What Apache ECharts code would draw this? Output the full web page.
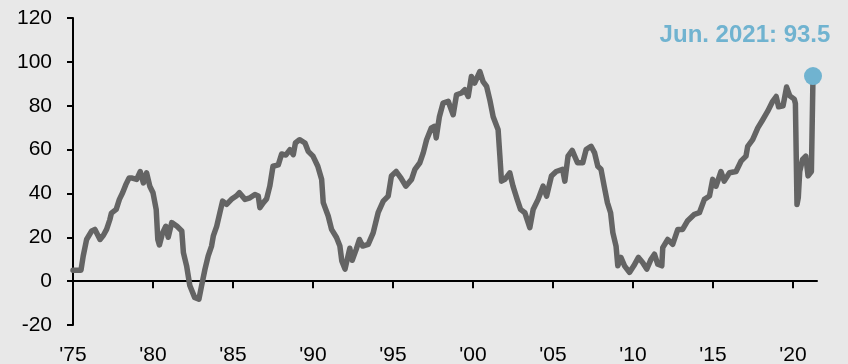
<!DOCTYPE html>
<html>
<head>
<meta charset="utf-8">
<script src="https://cdn.jsdelivr.net/npm/echarts@6/dist/echarts.min.js"></script>
<style>
html,body{margin:0;padding:0;background:#e8e8e8;}
#chart{width:848px;height:364px;}
</style>
</head>
<body>
<div id="chart"></div>
<script>
// Decimal-year positions of the readings
const years = [
  1975.0,1975.5,1975.64,1975.85,1976.17,1976.37,1976.69,1976.9,1977.1,1977.3,1977.4,1977.7,1977.9,
  1978.1,1978.3,1978.5,1978.7,1978.98,1979.2,1979.4,1979.6,1979.8,1980.0,1980.2,1980.3,1980.4,1980.6,
  1980.8,1980.95,1981.17,1981.5,1981.8,1981.9,1982.1,1982.3,1982.6,1982.87,1983.04,1983.25,1983.45,
  1983.66,1983.77,1983.98,1984.18,1984.35,1984.6,1984.9,1985.2,1985.4,1985.75,1986.06,1986.37,1986.58,
  1986.68,1986.9,1987.1,1987.3,1987.5,1987.83,1988.04,1988.3,1988.56,1988.77,1988.9,1989.16,1989.5,
  1989.7,1990.0,1990.3,1990.54,1990.64,1990.95,1991.16,1991.47,1991.68,1991.8,1992.0,1992.3,1992.45,
  1992.7,1992.9,1993.1,1993.45,1993.76,1994.07,1994.39,1994.7,1994.9,1995.2,1995.5,1995.8,1996.16,
  1996.37,1996.68,1996.89,1997.1,1997.4,1997.6,1997.7,1997.9,1998.13,1998.45,1998.76,1998.97,1999.28,
  1999.49,1999.7,1999.9,2000.1,2000.43,2000.63,2000.85,2001.05,2001.26,2001.57,2001.68,2001.78,2001.99,
  2002.3,2002.5,2002.76,2002.97,2003.24,2003.55,2003.76,2004.07,2004.38,2004.6,2004.9,2005.2,2005.6,
  2005.74,2005.94,2006.2,2006.53,2006.86,2007.07,2007.38,2007.6,2007.8,2008.0,2008.2,2008.4,2008.6,
  2008.74,2008.94,2009.05,2009.25,2009.47,2009.78,2010.05,2010.34,2010.6,2010.86,2011.13,2011.34,
  2011.55,2011.8,2011.86,2012.17,2012.48,2012.8,2013.1,2013.4,2013.84,2014.15,2014.46,2014.78,2014.98,
  2015.19,2015.5,2015.7,2016.03,2016.44,2016.75,2017.06,2017.17,2017.48,2017.8,2018.1,2018.42,2018.73,
  2018.95,2019.1,2019.38,2019.6,2019.8,2020.08,2020.15,2020.25,2020.33,2020.42,2020.6,2020.8,2020.94,
  2021.15,2021.25
];
const values = [
  5,5,11.5,19,22.9,23.6,19,20.9,23.6,28,31,32.7,37.3,
  40.3,44,47,47,46.4,50,44.8,49.4,43.3,40.3,32.7,19,16.5,22,
  25,20,26.7,25,22.9,13,7,-2,-7.4,-8.2,-2,5.5,11.5,
  16,20.6,25,31.2,36.5,35,37.3,38.8,40.3,37.3,38,39.5,38.8,
  33.5,35.8,37.5,43.3,52.4,53,58,57.5,60,57.7,63,64.5,63,
  59.2,57,52.4,46.4,35.8,29.7,23.6,19.9,16,9.2,5.5,15,9.5,
  14.5,19,16,16.8,22,31.2,36.5,38.8,47.9,50,47,43.3,46.4,
  51,54,58.5,64.5,69.9,70.6,65.3,75,81.2,82,75.9,85,85.8,
  87.3,84.2,93.3,90.3,95.6,91,88.8,82.7,75,69,57,45.6,46.4,
  49.4,43.3,37.3,32.7,31.2,24.4,32.7,37.3,43.3,38.8,47.9,50,51,
  45.6,57,59.6,54,54,60,61.5,58.5,52.4,51,43.3,35.8,31.2,
  22.1,16,7,10.8,7,4,7,10.8,8.5,5.5,10,12.3,
  7.7,7,15.3,19,16.8,23.6,23.6,27.4,30.5,31.2,37.3,38.8,46.4,
  43.3,50,45.6,49.4,50,54.7,57,61.5,64.5,69.9,73.5,77.5,82,
  84.2,79.5,80,88.5,84.5,83,81,35,38,50,55.5,57,48,
  50,93.5
];
const yTicks = [-20, 0, 20, 40, 60, 80, 100, 120];
const xTickYears = [1975, 1980, 1985, 1990, 1995, 2000, 2005, 2010, 2015, 2020];
const endLabel = 'Jun. 2021: 93.5';

const seriesData = years.map((y, i) => [y, values[i]]);
const last = seriesData[seriesData.length - 1];
const FONT = '"Liberation Sans", Arial, sans-serif';

const chart = echarts.init(document.getElementById('chart'), null, {renderer: 'canvas'});
chart.setOption({
  animation: false,
  backgroundColor: '#e8e8e8',
  textStyle: {fontFamily: FONT},
  grid: {left: 73, right: 31, top: 18, bottom: 39, containLabel: false, outerBoundsMode: 'none'},
  xAxis: [
    {
      type: 'value',
      min: 1975,
      max: 2021.5,
      splitLine: {show: false},
      axisLine: {show: true, onZero: true, lineStyle: {color: '#000', width: 2}},
      axisTick: {show: true, customValues: xTickYears, length: 7, lineStyle: {color: '#000', width: 2}},
      axisLabel: {show: false}
    },
    {
      type: 'value',
      position: 'bottom',
      min: 1975,
      max: 2021.5,
      splitLine: {show: false},
      axisLine: {show: false, onZero: false},
      axisTick: {show: false},
      axisLabel: {
        show: true,
        customValues: xTickYears,
        margin: 21,
        fontSize: 21,
        lineHeight: 18,
        color: '#000',
        fontFamily: FONT,
        formatter: v => "'" + String(Math.round(v)).slice(2)
      }
    }
  ],
  yAxis: {
    type: 'value',
    min: yTicks[0],
    max: yTicks[yTicks.length - 1],
    interval: 20,
    splitLine: {show: false},
    axisLine: {show: true, onZero: false, lineStyle: {color: '#000', width: 2}},
    axisTick: {show: true, length: 6, lineStyle: {color: '#000', width: 2}},
    axisLabel: {margin: 21, fontSize: 21, color: '#000', fontFamily: FONT}
  },
  series: [
    {
      type: 'line',
      xAxisIndex: 0,
      data: seriesData,
      showSymbol: false,
      symbol: 'none',
      clip: false,
      lineStyle: {color: '#646464', width: 5.5, cap: 'round', join: 'round'},
      z: 3
    },
    {
      type: 'scatter',
      xAxisIndex: 0,
      data: [last],
      symbol: 'circle',
      symbolSize: 18,
      clip: false,
      itemStyle: {color: '#70b3d0', opacity: 1},
      z: 4,
      label: {
        show: true,
        position: 'top',
        distance: 20,
        offset: [-68, 0],
        formatter: endLabel,
        fontSize: 24,
        fontWeight: 'bold',
        color: '#70b3d0',
        fontFamily: FONT
      }
    }
  ]
});
</script>
</body>
</html>
